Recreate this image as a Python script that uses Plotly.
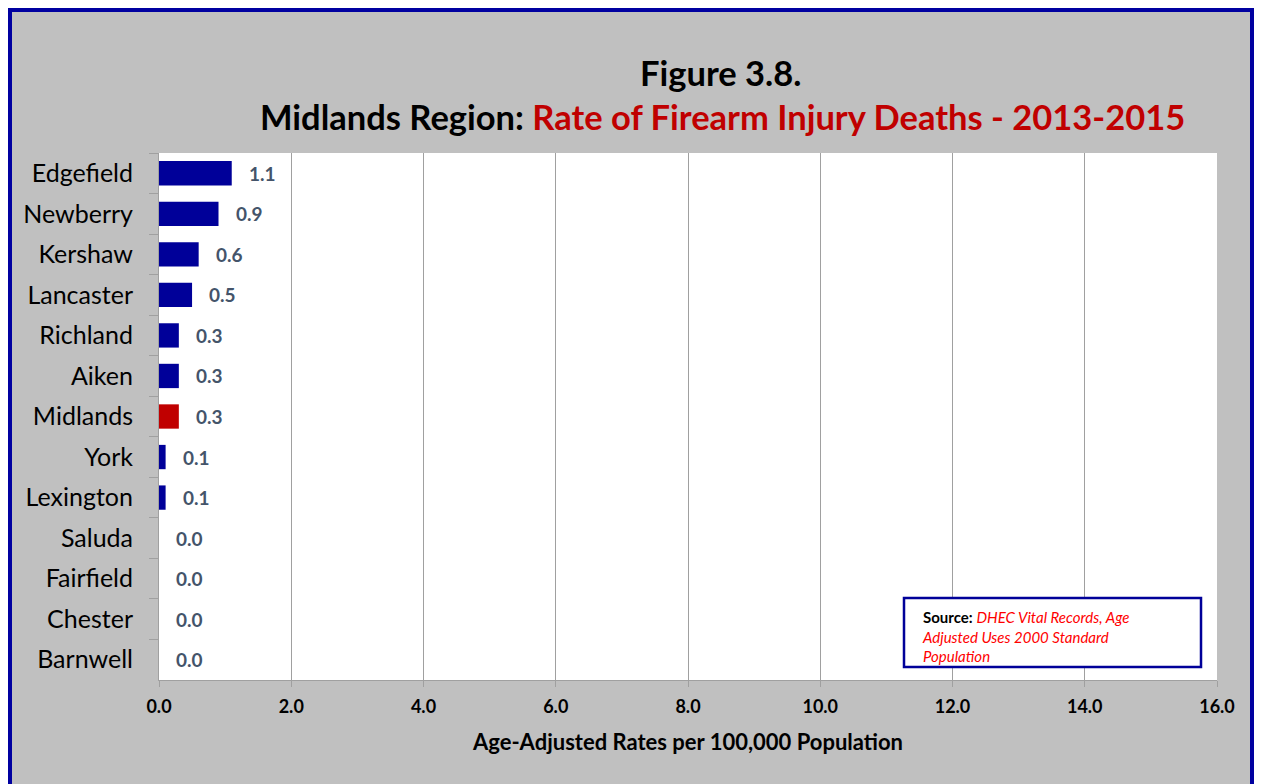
import plotly.graph_objects as go

counties = ['Edgefield', 'Newberry', 'Kershaw', 'Lancaster', 'Richland', 'Aiken',
            'Midlands', 'York', 'Lexington', 'Saluda', 'Fairfield', 'Chester', 'Barnwell']
rates = [1.1, 0.9, 0.6, 0.5, 0.3, 0.3, 0.3, 0.1, 0.1, 0.0, 0.0, 0.0, 0.0]
x_ticks = [0, 2, 4, 6, 8, 10, 12, 14, 16]

NAVY = '#000099'
RED = '#C00000'
FONT = 'Lato'

# the page body has an 8px margin, so the figure starts at page (8, 8)
OFF = 8
W, H = 1246, 776
L, R, T, B = 159 - OFF, 37, 153 - OFF, 104
pw, ph = W - L - R, H - T - B


def px(x):
    # page pixel -> paper x
    return (x - OFF - L) / pw


def py(y):
    # page pixel -> paper y
    return (H - B - (y - OFF)) / ph


colors = [RED if c == 'Midlands' else NAVY for c in counties]

fig = go.Figure(go.Bar(
    x=rates, y=counties, orientation='h',
    marker=dict(color=colors, line=dict(width=0)),
    hoverinfo='x+y',
))

for c, v in zip(counties, rates):
    fig.add_annotation(x=v, y=c, text='<b>%.1f</b>' % v, showarrow=False,
                       xanchor='left', xshift=15,
                       font=dict(family=FONT, size=19, color='#44546A'))

fig.add_annotation(
    x=px(721), y=py(73), xref='paper', yref='paper', showarrow=False,
    xanchor='center', yanchor='middle',
    text='<b>Figure 3.8.</b>', font=dict(family=FONT, size=34.5, color='black'))
fig.add_annotation(
    x=px(722), y=py(117), xref='paper', yref='paper', showarrow=False,
    xanchor='center', yanchor='middle',
    text='<b>Midlands Region: <span style="color:#C00000">Rate of Firearm Injury Deaths - 2013-2015</span></b>',
    font=dict(family=FONT, size=34.5, color='black'))

# source box
fig.add_shape(type='rect', xref='paper', yref='paper',
              x0=px(904), x1=px(1201), y0=py(598), y1=py(667),
              fillcolor='white', line=dict(color='#000099', width=2.5))
fig.add_annotation(
    x=px(920), y=py(606), xref='paper', yref='paper', showarrow=False,
    xanchor='left', yanchor='top', align='left',
    text='<b>Source:</b> <span style="color:#FF0000"><i>DHEC Vital Records, Age<br>'
         'Adjusted Uses 2000 Standard<br>Population</i></span>',
    font=dict(family=FONT, size=15, color='black'))

# outer frame
fig.add_shape(type='rect', xref='paper', yref='paper',
              x0=px(10), x1=px(1252), y0=py(800), y1=py(10),
              line=dict(color='#0000A0', width=4), layer='above')

fig.update_layout(
    width=W, height=H,
    margin=dict(l=L, r=R, t=T, b=B),
    paper_bgcolor='#C0C0C0', plot_bgcolor='white',
    bargap=0.4, showlegend=False,
    font=dict(family=FONT, color='black'),
    xaxis=dict(
        range=[0, 16], tickvals=x_ticks, ticktext=['<b>%.1f</b>' % t for t in x_ticks],
        tickfont=dict(size=18), showgrid=True, gridcolor='#A0A0A0', gridwidth=1,
        showline=True, linecolor='#A0A0A0', ticks='outside', ticklen=6, tickcolor='#A0A0A0',
        zeroline=False, ticklabelstandoff=4,
        title=dict(text='<b>Age-Adjusted Rates per 100,000 Population</b>',
                   font=dict(size=22), standoff=19),
    ),
    yaxis=dict(
        categoryorder='array', categoryarray=counties, autorange='reversed',
        tickson='boundaries', ticks='outside', ticklen=9, tickcolor='#A0A0A0',
        showline=True, linecolor='#A0A0A0', tickfont=dict(size=25),
        ticklabelstandoff=20, showgrid=False,
    ),
)

fig.write_html('out.html')
